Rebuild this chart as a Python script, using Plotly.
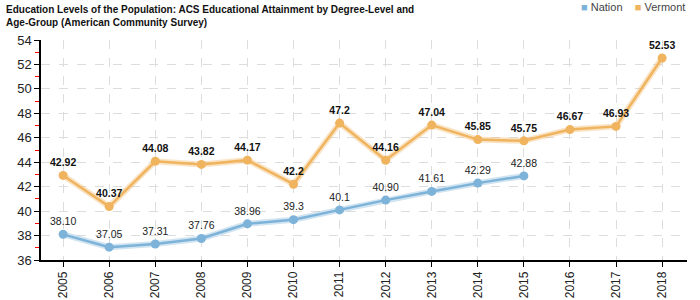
import plotly.graph_objects as go

years = ["2005", "2006", "2007", "2008", "2009", "2010", "2011", "2012", "2013",
         "2014", "2015", "2016", "2017", "2018"]
nation = [38.10, 37.05, 37.31, 37.76, 38.96, 39.3, 40.1, 40.90, 41.61, 42.29, 42.88]
nation_labels = ["38.10", "37.05", "37.31", "37.76", "38.96", "39.3", "40.1", "40.90",
                 "41.61", "42.29", "42.88"]
vermont = [42.92, 40.37, 44.08, 43.82, 44.17, 42.2, 47.2, 44.16, 47.04, 45.85, 45.75,
           46.67, 46.93, 52.53]
vermont_labels = ["42.92", "40.37", "44.08", "43.82", "44.17", "42.2", "47.2", "44.16",
                  "47.04", "45.85", "45.75", "46.67", "46.93", "52.53"]
series_names = ["Nation", "Vermont"]

nation_color = "#7db3d8"
vermont_color = "#f0b35e"

fig = go.Figure()

# shadow lines
fig.add_trace(go.Scatter(x=years[:len(nation)], y=nation, mode="lines",
                         line=dict(color=nation_color, width=6), opacity=0.35,
                         showlegend=False, hoverinfo="skip"))
fig.add_trace(go.Scatter(x=years, y=vermont, mode="lines",
                         line=dict(color=vermont_color, width=6), opacity=0.35,
                         showlegend=False, hoverinfo="skip"))

fig.add_trace(go.Scatter(x=years[:len(nation)], y=nation, mode="lines+markers+text",
                         line=dict(color=nation_color, width=2.5),
                         marker=dict(color=nation_color, size=9),
                         text=nation_labels, textposition="top center",
                         textfont=dict(family="Liberation Sans, Arial", size=10.5, color="#222"),
                         showlegend=False, name=series_names[0]))
fig.add_trace(go.Scatter(x=years, y=vermont, mode="lines+markers+text",
                         line=dict(color=vermont_color, width=2.5),
                         marker=dict(color=vermont_color, size=9),
                         text=["<b>" + t + "</b>" for t in vermont_labels],
                         textposition="top center",
                         textfont=dict(family="Liberation Sans, Arial", size=10.5, color="#111"),
                         showlegend=False, name=series_names[1]))

fig.add_annotation(
    text="<b>Education Levels of the Population: ACS Educational Attainment by Degree-Level and<br>Age-Group (American Community Survey)</b>",
    xref="paper", yref="paper", x=-0.058, y=1.175, xanchor="left", yanchor="top",
    align="left", showarrow=False,
    font=dict(family="Liberation Sans, Arial", size=10, color="#111"))

# legend
legend_text = (f"<span style='color:{nation_color}'>■</span> {series_names[0]}  "
               f"  <span style='color:{vermont_color}'>■</span> {series_names[1]}")
fig.add_annotation(
    text=legend_text, xref="paper", yref="paper", x=1.0, y=1.185,
    xanchor="right", yanchor="top", showarrow=False, xshift=0,
    font=dict(family="Liberation Sans, Arial", size=11, color="#444"))

fig.update_layout(
    width=700, height=300,
    margin=dict(l=41, r=13, t=40, b=40, autoexpand=False),
    plot_bgcolor="white", paper_bgcolor="white",
    font=dict(family="Liberation Sans, Arial", color="#222"),
    showlegend=False,
    xaxis=dict(type="category", range=[-0.48, 13.54], tickangle=-90, automargin=False,
               showline=True, linecolor="black", linewidth=1.5,
               ticks="outside", ticklen=5, tickcolor="black",
               showgrid=True, gridcolor="#dddddd", griddash="dash", gridwidth=1,
               tickfont=dict(size=12, color="#222")),
    yaxis=dict(range=[36, 54], dtick=2, tick0=36, automargin=False,
               showline=True, linecolor="black", linewidth=1.5,
               ticks="outside", ticklen=5, tickcolor="black",
               showgrid=True, gridcolor="#dddddd", griddash="dash", gridwidth=1,
               zeroline=False,
               tickfont=dict(size=13, color="#222"),
               minor=dict(dtick=1, tick0=36, ticks="outside", ticklen=4,
                          tickcolor="red", showgrid=False)),
)

fig.write_html("out.html")
